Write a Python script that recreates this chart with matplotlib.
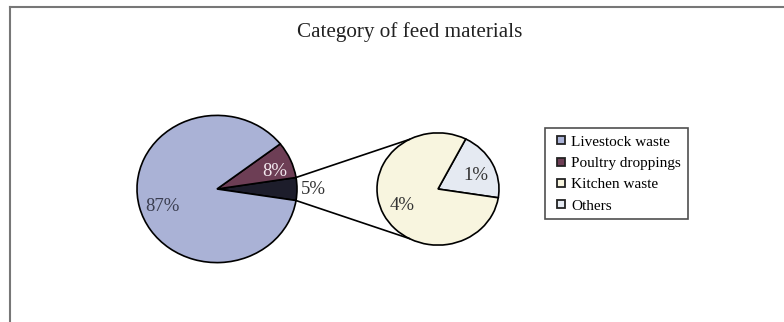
import numpy as np
import matplotlib
matplotlib.use('Agg')
import matplotlib.pyplot as plt
from matplotlib.lines import Line2D

# data: share of each feed material (%)
categories = ['Livestock waste', 'Poultry droppings', 'Kitchen waste', 'Others']
shares = [87, 8, 4, 1]
colors = ['#aab2d6', '#6d3e55', '#f8f5df', '#e5eaf2']
combined_color = '#1d1d2b'

plt.rcParams['font.family'] = ['Liberation Serif', 'DejaVu Serif']

W, H = 784, 322
squash = 0.92  # pies come out a bit wider than tall in the original

fig = plt.figure(figsize=(W / 100, H / 100), dpi=100)
ax = fig.add_axes([0, 0, 1, 1])

def py(p):
    # pixel row from top -> data y
    return (H - p) / squash

main_c = (217, py(189))
main_r = 80
sub_c = (438, py(189))
sub_r = 61

rest = shares[2] + shares[3]
main_vals = [rest, shares[1], shares[0]]
main_cols = [combined_color, colors[1], colors[0]]
start = -rest / 100 * 360 / 2

wp = dict(edgecolor='black', linewidth=1.2)
w1, _ = ax.pie(main_vals, colors=main_cols, startangle=start, counterclock=True,
               center=main_c, radius=main_r, wedgeprops=wp, frame=True)

sub_vals = [shares[3], shares[2]]
sub_cols = [colors[3], colors[2]]
w2, _ = ax.pie(sub_vals, colors=sub_cols, startangle=start, counterclock=True,
               center=sub_c, radius=sub_r, wedgeprops=wp, frame=True)
ax.set_xlim(0, W)
ax.set_ylim(0, H / squash)
ax.set_aspect('auto')
ax.axis('off')

def label(wedge, c, r, frac, txt, col, rot=0):
    mid = np.deg2rad((wedge.theta1 + wedge.theta2) / 2 + rot)
    ax.text(c[0] + frac * r * np.cos(mid), c[1] + frac * r * np.sin(mid), txt,
            ha='center', va='center', fontsize=13.5, color=col)

label(w1[2], main_c, main_r, 0.72, f'{shares[0]}%', '#3a3d50', 5)
label(w1[1], main_c, main_r, 0.76, f'{shares[1]}%', '#f2e8ee', -5)
label(w1[0], main_c, main_r, 1.21, f'{rest}%', '#333333')
label(w2[0], sub_c, sub_r, 0.66, f'{shares[3]}%', '#333333', -6)
label(w2[1], sub_c, sub_r, 0.66, f'{shares[2]}%', '#333333')

# connector lines between the pies
for a_main, a_sub in [(w1[0].theta2, 118), (w1[0].theta1, 242)]:
    x0 = main_c[0] + main_r * np.cos(np.deg2rad(a_main))
    y0 = main_c[1] + main_r * np.sin(np.deg2rad(a_main))
    x1 = sub_c[0] + sub_r * np.cos(np.deg2rad(a_sub))
    y1 = sub_c[1] + sub_r * np.sin(np.deg2rad(a_sub))
    ax.plot([x0, x1], [y0, y1], color='black', lw=1.2)

# title
fig.text(410 / W, 1 - 32 / H, 'Category of feed materials', ha='center', va='center',
         fontsize=15.2, color='#222222')

# legend
handles = [Line2D([], [], ls='none', marker='s', markersize=5.5, markerfacecolor=c,
                  markeredgecolor='#222222', markeredgewidth=1.3) for c in colors]
leg = fig.legend(handles, categories, loc='upper left',
                 bbox_to_anchor=(545 / W, 1 - 128 / H), borderaxespad=0,
                 fontsize=11, frameon=True, fancybox=False, handlelength=1.2,
                 handletextpad=0.05, labelspacing=0.5, borderpad=0.45)
leg.get_frame().set_edgecolor('#222222')
leg.get_frame().set_linewidth(1.2)

# outer frame (left and top edges visible)
fig.add_artist(Line2D([9.5 / W, 9.5 / W], [0, 1 - 7 / H], transform=fig.transFigure,
                      color='#777777', lw=1.5))
fig.add_artist(Line2D([9.5 / W, 1], [1 - 7 / H, 1 - 7 / H], transform=fig.transFigure,
                      color='#777777', lw=1.5))

fig.savefig('out.png', dpi=100)
